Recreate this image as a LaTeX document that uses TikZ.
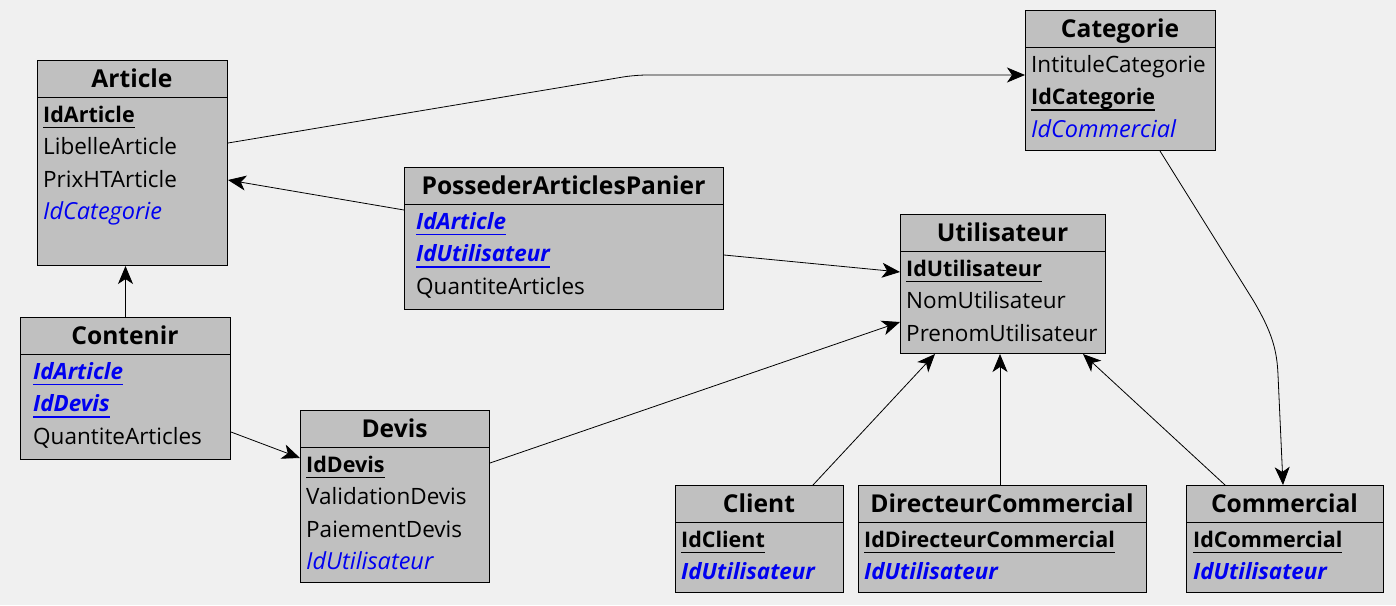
\documentclass[tikz,border=0pt]{standalone}
\usepackage{fontspec}
\setmainfont{Open Sans}
\usetikzlibrary{arrows.meta}
\definecolor{fond}{HTML}{F0F0F0}
\definecolor{gristable}{HTML}{C0C0C0}
\definecolor{bleucle}{HTML}{0000F0}
\newcommand{\titrefont}{\fontsize{24.6}{28}\selectfont\bfseries}
\newcommand{\attrfont}{\fontsize{22.5}{26}\selectfont}
\newcommand{\souligne}[1]{\setbox0\hbox{#1}\rlap{\rule[-6pt]{\wd0}{1.3pt}}\box0}
\tikzset{
  entity/.style={draw=black, fill=gristable, anchor=north west, inner sep=0pt, line width=1pt},
  titre/.style={anchor=base, inner sep=0pt, font=\titrefont},
  attr/.style={anchor=base west, inner sep=0pt, font=\attrfont},
  cle/.style={attr, font=\fontsize{21.5}{26}\selectfont\bfseries},
  etr/.style={attr, text=bleucle, font=\fontsize{23.5}{26}\selectfont\itshape},
  cleetr/.style={attr, text=bleucle, font=\fontsize{22.4}{26}\selectfont\bfseries\itshape},
  lien/.style={-{Stealth[length=18pt,width=15pt,inset=5pt]}, line width=0.8pt},
}

\begin{document}
\begin{tikzpicture}[x=1pt, y=-1pt]
\fill[fond] (0,0) rectangle (1396,605);
\useasboundingbox (0,0) rectangle (1396,605);

% Article
\node[entity, minimum width=190pt, minimum height=205pt] (art) at (37,60) {};
\draw (37,97) -- (227,97);
\node[titre] (art-t) at (132,87) {Article};
\node[cle] (art-a1) at (43,122) {\souligne{IdArticle}};
\node[attr] (art-a2) at (43,154.5) {LibelleArticle};
\node[attr] (art-a3) at (43,187) {PrixHTArticle};
\node[etr] (art-a4) at (43,219.5) {IdCategorie};

% Categorie
\node[entity, minimum width=190pt, minimum height=140pt] (cat) at (1025,10) {};
\draw (1025,47) -- (1215,47);
\node[titre] (cat-t) at (1120,37) {Categorie};
\node[attr] (cat-a1) at (1031,72) {IntituleCategorie};
\node[cle] (cat-a2) at (1031,104.5) {\souligne{IdCategorie}};
\node[etr] (cat-a3) at (1031,137) {IdCommercial};

% PossederArticlesPanier
\node[entity, minimum width=319pt, minimum height=142pt] (pos) at (404,167) {};
\draw (404,204) -- (723,204);
\node[titre] (pos-t) at (563.5,194) {PossederArticlesPanier};
\node[cleetr] (pos-a1) at (416,229) {\souligne{IdArticle}};
\node[cleetr] (pos-a2) at (416,261.5) {\souligne{IdUtilisateur}};
\node[attr] (pos-a3) at (416,294) {QuantiteArticles};

% Utilisateur
\node[entity, minimum width=205pt, minimum height=139pt] (uti) at (900,214) {};
\draw (900,251) -- (1105,251);
\node[titre] (uti-t) at (1002.5,241) {Utilisateur};
\node[cle] (uti-a1) at (906,276) {\souligne{IdUtilisateur}};
\node[attr] (uti-a2) at (906,308.5) {NomUtilisateur};
\node[attr] (uti-a3) at (906,341) {PrenomUtilisateur};

% Contenir
\node[entity, minimum width=210pt, minimum height=142pt] (con) at (20,317) {};
\draw (20,354) -- (230,354);
\node[titre] (con-t) at (125,344) {Contenir};
\node[cleetr] (con-a1) at (33,379) {\souligne{IdArticle}};
\node[cleetr] (con-a2) at (33,411.5) {\souligne{IdDevis}};
\node[attr] (con-a3) at (33,444) {QuantiteArticles};

% Devis
\node[entity, minimum width=189pt, minimum height=172pt] (dev) at (300,410) {};
\draw (300,447) -- (489,447);
\node[titre] (dev-t) at (394.5,437) {Devis};
\node[cle] (dev-a1) at (306,472) {\souligne{IdDevis}};
\node[attr] (dev-a2) at (306,504.5) {ValidationDevis};
\node[attr] (dev-a3) at (306,537) {PaiementDevis};
\node[etr] (dev-a4) at (306,569.5) {IdUtilisateur};

% Client
\node[entity, minimum width=168pt, minimum height=107pt] (cli) at (675,485) {};
\draw (675,522) -- (843,522);
\node[titre] (cli-t) at (759,512) {Client};
\node[cle] (cli-a1) at (681,547) {\souligne{IdClient}};
\node[cleetr] (cli-a2) at (681,579.5) {IdUtilisateur};

% DirecteurCommercial
\node[entity, minimum width=288pt, minimum height=107pt] (dir) at (858,485) {};
\draw (858,522) -- (1146,522);
\node[titre] (dir-t) at (1002,512) {DirecteurCommercial};
\node[cle] (dir-a1) at (864,547) {\souligne{IdDirecteurCommercial}};
\node[cleetr] (dir-a2) at (864,579.5) {IdUtilisateur};

% Commercial
\node[entity, minimum width=197pt, minimum height=107pt] (com) at (1186,485) {};
\draw (1186,522) -- (1383,522);
\node[titre] (com-t) at (1284.5,512) {Commercial};
\node[cle] (com-a1) at (1193,547) {\souligne{IdCommercial}};
\node[cleetr] (com-a2) at (1193,579.5) {IdUtilisateur};

% liens
\draw[lien, rounded corners=12pt] ([yshift=-83pt]art.north east) -- (635,75) -- ([yshift=-65pt]cat.north west);
\draw[lien] ([yshift=-43pt]pos.north west) -- ([yshift=-120pt]art.north east);
\draw[lien] ([yshift=-88pt]pos.north east) -- ([yshift=-58pt]uti.north west);
\draw[lien] (con.north) -- (con.north |- art.south);
\draw[lien] ([yshift=-115pt]con.north east) -- ([yshift=-48pt]dev.north west);
\draw[lien] ([yshift=-53pt]dev.north east) -- ([yshift=-108pt]uti.north west);
\draw[lien] ([xshift=138pt]cli.north west) -- ([xshift=35pt]uti.south west);
\draw[lien] ([xshift=142pt]dir.north west) -- ([xshift=100pt]uti.south west);
\draw[lien] ([xshift=39pt]com.north west) -- ([xshift=183pt]uti.south west);
\draw[lien] ([xshift=135pt]cat.south west) -- (1253,300) .. controls (1272,332) and (1277,350) .. (1278,375) -- ([xshift=97pt]com.north west);

\end{tikzpicture}
\end{document}
